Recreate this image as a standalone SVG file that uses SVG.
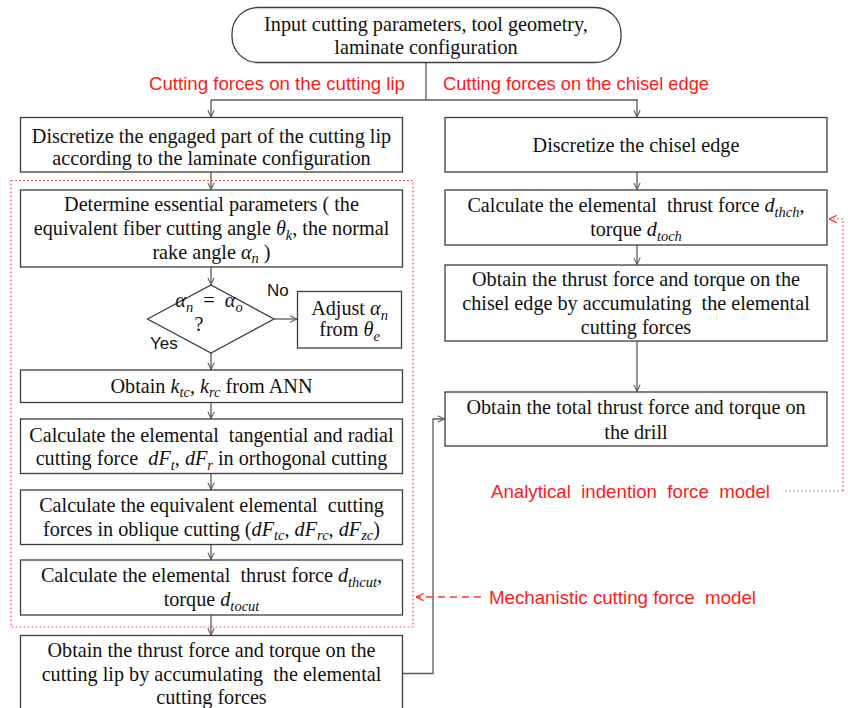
<svg xmlns="http://www.w3.org/2000/svg" width="848" height="708" viewBox="0 0 848 708">
<defs>
<style>
.bx{fill:#fff;stroke:#3c3c3c;stroke-width:1.3}
.t{font-family:"Liberation Serif","Times New Roman",serif;font-size:20.2px;fill:#111;text-anchor:middle}
.m{font-style:italic}
.s{font-style:italic;font-size:14.5px}
.r{font-family:"Liberation Sans",Arial,sans-serif;font-size:18.5px;fill:#ff1a1a}
.k{font-family:"Liberation Sans",Arial,sans-serif;font-size:17px;fill:#111}
.c{fill:none;stroke:#5a5a5a;stroke-width:1.3}
.rd{fill:none;stroke:#ff5a5a;stroke-width:1.2;stroke-dasharray:2 2}
.ra{fill:none;stroke:#ff3030;stroke-width:1.3;stroke-dasharray:7 5}
.gd{fill:none;stroke:#a0a0a0;stroke-width:1.2;stroke-dasharray:2 2}
</style>
<marker id="ah" viewBox="0 0 10 10" refX="9.5" refY="5" markerWidth="8" markerHeight="8" markerUnits="userSpaceOnUse" orient="auto">
<path d="M1,1 L9.5,5 L1,9" fill="none" stroke="#5a5a5a" stroke-width="1.3"/>
</marker>
<marker id="ahr" viewBox="0 0 10 10" refX="9.5" refY="5" markerWidth="9" markerHeight="9" markerUnits="userSpaceOnUse" orient="auto">
<path d="M1,1 L9.5,5 L1,9" fill="none" stroke="#ff3030" stroke-width="1.4"/>
</marker>
</defs>
<rect width="848" height="708" fill="#fff"/>

<g id="model-regions">
<rect class="rd" x="11" y="180.5" width="402" height="446.5"/>
</g>

<g id="connectors">
<path class="c" d="M426,62 V100"/>
<path class="c" d="M211,100 H638"/>
<path class="c" d="M211,100 V117" marker-end="url(#ah)"/>
<path class="c" d="M637,100 V117" marker-end="url(#ah)"/>
<path class="c" d="M211,172 V189.5" marker-end="url(#ah)"/>
<path class="c" d="M211,267 V284.5" marker-end="url(#ah)"/>
<path class="c" d="M274,319 H297" marker-end="url(#ah)"/>
<path class="c" d="M211,353 V369.5" marker-end="url(#ah)"/>
<path class="c" d="M211,402.5 V418.5" marker-end="url(#ah)"/>
<path class="c" d="M211,473.5 V489.5" marker-end="url(#ah)"/>
<path class="c" d="M211,544.5 V559.5" marker-end="url(#ah)"/>
<path class="c" d="M211,615 V635" marker-end="url(#ah)"/>
<path class="c" d="M402.5,673.5 H433 V419 H444.5" marker-end="url(#ah)"/>
<path class="c" d="M637,172 V189.5" marker-end="url(#ah)"/>
<path class="c" d="M637,245 V264.5" marker-end="url(#ah)"/>
<path class="c" d="M637,341 V391.5" marker-end="url(#ah)"/>
<path class="ra" d="M481,597 H416" marker-end="url(#ahr)"/>
<path class="gd" d="M785,491 H843"/>
<path class="rd" d="M843,491 V219 H829" marker-end="url(#ahr)"/>
</g>

<g id="labels">
<text class="r" x="149" y="89.5" textLength="256" lengthAdjust="spacingAndGlyphs">Cutting forces on the cutting lip</text>
<text class="r" x="443" y="89.5" textLength="266" lengthAdjust="spacingAndGlyphs">Cutting forces on the chisel edge</text>
<text class="r" x="491" y="497.5" textLength="279" lengthAdjust="spacingAndGlyphs" xml:space="preserve">Analytical  indention  force  model</text>
<text class="r" x="489" y="603.5" textLength="267" lengthAdjust="spacingAndGlyphs" xml:space="preserve">Mechanistic cutting force  model</text>
<text class="k" x="267" y="296">No</text>
<text class="k" x="150" y="349">Yes</text>
</g>

<g id="n-input">
<rect class="bx" x="232" y="7.5" width="389" height="55" rx="26" ry="26"/>
<text class="t" x="426" y="30.5">Input cutting parameters, tool geometry,</text>
<text class="t" x="426" y="53.5">laminate configuration</text>
</g>

<g id="n-discretize-lip">
<rect class="bx" x="20.5" y="117.5" width="382" height="54.5"/>
<text class="t" x="211.5" y="142.5">Discretize the engaged part of the cutting lip</text>
<text class="t" x="211.5" y="165">according to the laminate configuration</text>
</g>

<g id="n-discretize-chisel">
<rect class="bx" x="445" y="117.5" width="382" height="54.5"/>
<text class="t" x="636" y="152">Discretize the chisel edge</text>
</g>

<g id="n-determine">
<rect class="bx" x="20.5" y="190" width="382" height="77"/>
<text class="t" x="211.5" y="211">Determine essential parameters ( the</text>
<text class="t" x="211.5" y="235">equivalent fiber cutting angle <tspan class="m">θ</tspan><tspan class="s" dy="4.5">k</tspan><tspan dy="-4.5">, the normal</tspan></text>
<text class="t" x="211.5" y="258.5">rake angle <tspan class="m">α</tspan><tspan class="s" dy="4.5">n</tspan><tspan dy="-4.5"> )</tspan></text>
</g>

<g id="n-decision">
<polygon class="bx" points="147.5,319 211,285 274,319 211,353"/>
<text class="t" x="209" y="307" xml:space="preserve"><tspan class="m">α</tspan><tspan class="s" dy="4.5">n</tspan><tspan dy="-4.5">  =  </tspan><tspan class="m">α</tspan><tspan class="s" dy="4.5">o</tspan></text>
<text class="t" x="199" y="331">?</text>
</g>

<g id="n-adjust">
<rect class="bx" x="297.5" y="291.5" width="104" height="56.5"/>
<text class="t" x="349.5" y="315">Adjust <tspan class="m">α</tspan><tspan class="s" dy="4.5">n</tspan></text>
<text class="t" x="349.5" y="336">from <tspan class="m">θ</tspan><tspan class="s" dy="4.5">e</tspan></text>
</g>

<g id="n-ann">
<rect class="bx" x="20.5" y="370" width="382" height="32.5"/>
<text class="t" x="211.5" y="392.5">Obtain <tspan class="m">k</tspan><tspan class="s" dy="4.5">tc</tspan><tspan dy="-4.5">, </tspan><tspan class="m">k</tspan><tspan class="s" dy="4.5">rc</tspan><tspan dy="-4.5"> from ANN</tspan></text>
</g>

<g id="n-orthogonal">
<rect class="bx" x="20.5" y="419" width="382" height="54.5"/>
<text class="t" x="211.5" y="441.5" xml:space="preserve">Calculate the elemental  tangential and radial</text>
<text class="t" x="211.5" y="465" xml:space="preserve">cutting force  <tspan class="m">dF</tspan><tspan class="s" dy="4.5">t</tspan><tspan dy="-4.5">, </tspan><tspan class="m">dF</tspan><tspan class="s" dy="4.5">r</tspan><tspan dy="-4.5"> in orthogonal cutting</tspan></text>
</g>

<g id="n-oblique">
<rect class="bx" x="20.5" y="490" width="382" height="54.5"/>
<text class="t" x="211.5" y="512" xml:space="preserve">Calculate the equivalent elemental  cutting</text>
<text class="t" x="211.5" y="535.5">forces in oblique cutting (<tspan class="m">dF</tspan><tspan class="s" dy="4.5">tc</tspan><tspan dy="-4.5">, </tspan><tspan class="m">dF</tspan><tspan class="s" dy="4.5">rc</tspan><tspan dy="-4.5">, </tspan><tspan class="m">dF</tspan><tspan class="s" dy="4.5">zc</tspan><tspan dy="-4.5">)</tspan></text>
</g>

<g id="n-thrust-lip">
<rect class="bx" x="20.5" y="560" width="382" height="55"/>
<text class="t" x="211.5" y="582" xml:space="preserve">Calculate the elemental  thrust force <tspan class="m">d</tspan><tspan class="s" dy="4.5">thcut</tspan><tspan dy="-4.5">,</tspan></text>
<text class="t" x="211.5" y="606">torque <tspan class="m">d</tspan><tspan class="s" dy="4.5">tocut</tspan></text>
</g>

<g id="n-accumulate-lip">
<rect class="bx" x="20.5" y="635.5" width="382" height="80"/>
<text class="t" x="211.5" y="657">Obtain the thrust force and torque on the</text>
<text class="t" x="211.5" y="680.5" xml:space="preserve">cutting lip by accumulating  the elemental</text>
<text class="t" x="211.5" y="704">cutting forces</text>
</g>

<g id="n-thrust-chisel">
<rect class="bx" x="445" y="190" width="382" height="55"/>
<text class="t" x="636" y="212" xml:space="preserve">Calculate the elemental  thrust force <tspan class="m">d</tspan><tspan class="s" dy="4.5">thch</tspan><tspan dy="-4.5">,</tspan></text>
<text class="t" x="636" y="236">torque <tspan class="m">d</tspan><tspan class="s" dy="4.5">toch</tspan></text>
</g>

<g id="n-accumulate-chisel">
<rect class="bx" x="445" y="265" width="382" height="76"/>
<text class="t" x="636" y="286">Obtain the thrust force and torque on the</text>
<text class="t" x="636" y="310" xml:space="preserve">chisel edge by accumulating  the elemental</text>
<text class="t" x="636" y="333.5">cutting forces</text>
</g>

<g id="n-total">
<rect class="bx" x="445" y="392" width="382" height="54"/>
<text class="t" x="636" y="414">Obtain the total thrust force and torque on</text>
<text class="t" x="636" y="438.5">the drill</text>
</g>
</svg>
